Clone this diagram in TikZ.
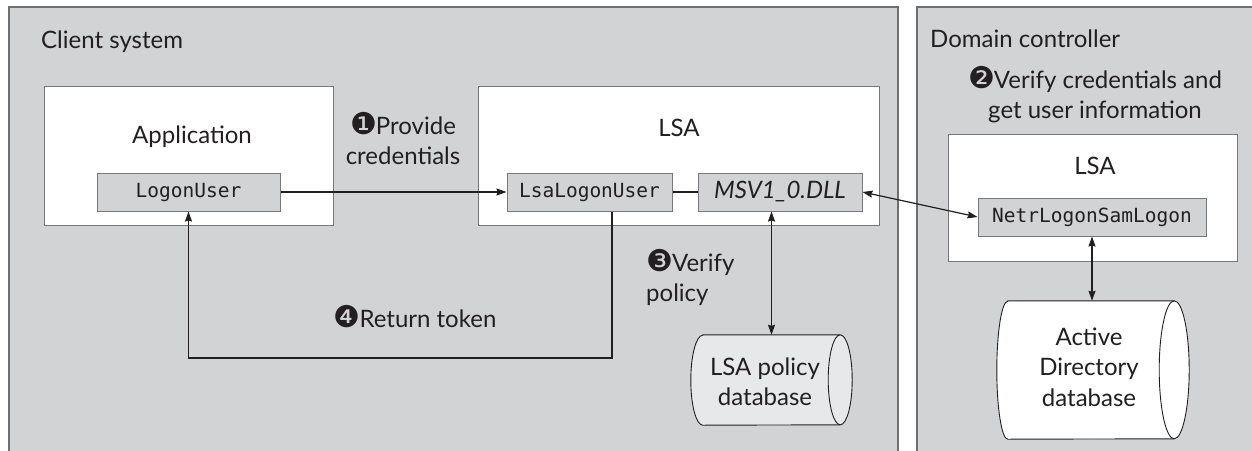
\documentclass[tikz,border=0pt]{standalone}
\usepackage{fontspec}
\setmainfont{Lato}
\setmonofont{DejaVu Sans Mono}
\newfontfamily\dingfont{DejaVu Sans}
\usetikzlibrary{arrows.meta,calc}

\definecolor{panel}{RGB}{209,211,212}
\definecolor{panelline}{RGB}{110,111,113}
\definecolor{boxline}{RGB}{120,120,122}
\definecolor{dbfill}{RGB}{231,232,233}
\definecolor{ink}{RGB}{35,31,32}

\newcommand{\labfont}{\fontsize{24}{30.5}\selectfont}
\newcommand{\codefont}{\ttfamily\fontsize{19.5}{23}\selectfont}
\newcommand{\cnum}[1]{\smash{{\dingfont\fontsize{30}{30}\selectfont #1}}\kern-1pt}
% name, fill, left bulge, right bulge, half height
\newcommand{\dbshape}[5]{%
  \path[draw=ink, line width=0.9pt, fill=#2]
    (#1.north west) -- (#1.north east)
    arc[start angle=90, end angle=-90, x radius=#4, y radius=#5]
    -- (#1.south west)
    arc[start angle=-90, end angle=-270, x radius=#3, y radius=#5]
    -- cycle;
  \draw[ink, line width=0.9pt] (#1.north east)
    arc[start angle=90, end angle=270, x radius=#4, y radius=#5];
}

\begin{document}
\begin{tikzpicture}[x=1pt, y=-1pt,
  panelbox/.style={draw=panelline, line width=1.4pt, fill=panel},
  procbox/.style={draw=boxline, line width=1pt, fill=white, inner sep=0pt},
  funcbox/.style={draw=boxline, line width=1pt, fill=panel, inner sep=0pt,
                  minimum height=38pt, font=\codefont, text=ink},
  lab/.style={font=\labfont, text=ink, inner sep=0pt},
  dbbody/.style={inner sep=0pt, font=\labfont, text=ink, align=center},
  conn/.style={draw=ink, line width=1.2pt},
  >={Stealth[length=10pt, width=7pt, inset=1pt]}
]
\useasboundingbox (0,0) rectangle (1252,450);

% panels
\path[panelbox] (9,7) rectangle (898,462);
\path[panelbox] (917,7) rectangle (1262,462);
\node[lab, anchor=base west] (client) at (41,48) {Client system};
\node[lab, anchor=base west] (domain) at (930,47) {Domain controller};

% application
\node[procbox, minimum width=289pt, minimum height=139pt] (app) at (188.5,155.5) {};
\node[lab, anchor=base] (apptitle) at (192,143) {Application};
\node[funcbox, minimum width=183pt] (logon) at (188.5,192) {LogonUser};

% client LSA
\node[procbox, minimum width=401pt, minimum height=139pt] (lsa) at (678.5,155.5) {};
\node[lab, anchor=base] (lsatitle) at (679,136) {LSA};
\node[funcbox, minimum width=165pt] (lsal) at (589.5,192) {LsaLogonUser};
\node[funcbox, minimum width=164pt, font=\labfont\itshape] (msv) at (780,192) {MSV1\_0.DLL};

% domain LSA
\node[procbox, minimum width=289pt, minimum height=127pt] (dlsa) at (1092.5,197.5) {};
\node[lab, anchor=base] (dlsatitle) at (1095,174) {LSA};
\node[funcbox, minimum width=228pt] (netr) at (1092,217) {NetrLogonSamLogon};

% databases
\node[dbbody, minimum width=137pt, minimum height=90pt] (db1) at (771.5,380) {};
\dbshape{db1}{dbfill}{12pt}{12pt}{45pt}
\node[dbbody] (db1text) at (765,382) {LSA policy\\database};

\node[dbbody, minimum width=166pt, minimum height=138pt] (ad) at (1091,370) {};
\dbshape{ad}{white}{11pt}{15pt}{69pt}
\node[dbbody] (adtext) at (1089,367) {Active\\Directory\\database};

% labels
\node[lab, align=center] (l1) at (403,141) {\cnum{❶}Provide\\credentials};
\node[lab, align=center] (l2) at (1095,97) {\cnum{❷}Verify credentials and\\get user information};
\node[lab, align=left, anchor=west] (l3) at (646,280) {\cnum{❸}Verify\\policy};
\node[lab, anchor=base] (l4) at (415,327) {\cnum{❹}Return token};

% connectors
\coordinate (rt) at (612,358);
\draw[conn, ->] (logon.east) -- (lsal.west);
\draw[conn] (lsal.east) -- (msv.west);
\draw[conn, <->] (msv.east) -- (netr.west);
\draw[conn, <->] (db1.north |- msv.south) -- (db1.north);
\draw[conn, <->] (netr.south) -- (netr.south |- ad.north);
\draw[conn, ->] (lsal.south -| rt) -- (rt) -| (logon.south);
\end{tikzpicture}
\end{document}
